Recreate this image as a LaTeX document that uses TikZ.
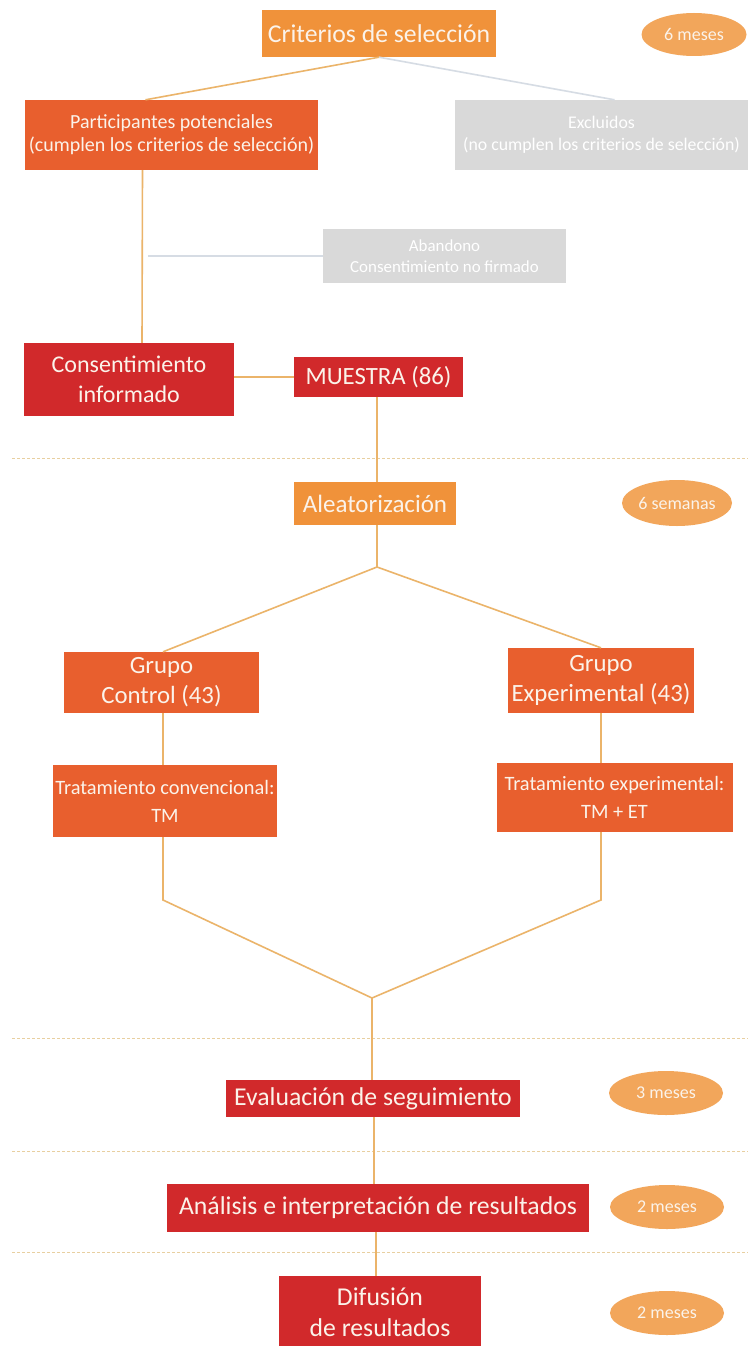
\documentclass[tikz,border=0pt]{standalone}
\usepackage{fontspec}
\setmainfont{Carlito}
\usetikzlibrary{shapes.geometric,calc}
\definecolor{corange}{HTML}{F0923A}
\definecolor{cored}{HTML}{E85F2E}
\definecolor{cred}{HTML}{D1292B}
\definecolor{cgrey}{HTML}{D9D9D9}
\definecolor{cell}{HTML}{F2A65B}
\definecolor{cline}{HTML}{EBB46A}
\definecolor{cgline}{HTML}{D6DCE4}
\definecolor{cdash}{HTML}{E8CFA0}
\definecolor{ctext}{HTML}{FBF3EA}
\tikzset{
  box/.style={rectangle, inner sep=0pt, align=center, text=ctext},
  topbox/.style={box, fill=corange, font=\fontsize{25.7}{30}\selectfont},
  midbox/.style={box, fill=cored},
  redbox/.style={box, fill=cred, font=\fontsize{25.7}{31}\selectfont},
  greybox/.style={box, fill=cgrey, text=white, font=\fontsize{17.8}{22}\selectfont},
  dur/.style={ellipse, fill=cell, text=ctext, inner sep=0pt, font=\fontsize{18}{20}\selectfont},
  link/.style={draw=cline, line width=1.6pt},
  glink/.style={draw=cgline, line width=1.6pt},
  sep/.style={draw=cdash, line width=0.8pt, dash pattern=on 3pt off 2pt}
}
\begin{document}
\begin{tikzpicture}[x=1pt,y=-1pt]
\useasboundingbox (0,0) rectangle (748,1346);
\fill[white] (0,0) rectangle (748,1346);

% dashed separators
\coordinate (s1a) at (12,458); \coordinate (s1b) at (748,458);
\coordinate (s2a) at (12,1038); \coordinate (s2b) at (748,1038);
\coordinate (s3a) at (12,1151); \coordinate (s3b) at (748,1151);
\coordinate (s4a) at (12,1252); \coordinate (s4b) at (748,1252);
\draw[sep] (s1a) -- (s1b);
\draw[sep] (s2a) -- (s2b);
\draw[sep] (s3a) -- (s3b);
\draw[sep] (s4a) -- (s4b);

% nodes
\node[topbox, minimum width=234pt, minimum height=47pt] (crit) at (379,33.5) {Criterios de selección};
\node[dur, minimum width=105pt, minimum height=43pt] (d1) at (694,34.5) {6 meses};
\node[midbox, minimum width=293pt, minimum height=70pt, font=\fontsize{20}{23}\selectfont] (part) at (171.5,135) {Participantes potenciales\\(cumplen los criterios de selección)};
\node[greybox, minimum width=293pt, minimum height=70pt] (excl) at (601.5,135) {Excluidos\\(no cumplen los criterios de selección)};
\node[greybox, minimum width=243pt, minimum height=54pt, font=\fontsize{16.9}{21}\selectfont] (aban) at (444.5,256) {Abandono\\Consentimiento no firmado};
\node[redbox, minimum width=210pt, minimum height=73pt, font=\fontsize{24}{30}\selectfont] (cons) at (129,379.5) {Consentimiento\\informado};
\node[redbox, minimum width=169pt, minimum height=40pt, font=\fontsize{24.8}{30}\selectfont] (mues) at (378.5,377) {MUESTRA (86)};
\node[topbox, minimum width=162pt, minimum height=43pt, font=\fontsize{25}{30}\selectfont] (alea) at (375,503.5) {Aleatorización};
\node[dur, minimum width=110pt, minimum height=46pt] (d2) at (677,503) {6 semanas};
\node[midbox, minimum width=195pt, minimum height=61pt, font=\fontsize{24.8}{30}\selectfont] (gc) at (161.5,682.5) {Grupo\\Control (43)};
\node[midbox, minimum width=186pt, minimum height=65pt, font=\fontsize{24.8}{30}\selectfont] (ge) at (601,680.5) {Grupo\\Experimental (43)};
\node[midbox, minimum width=224pt, minimum height=72pt, font=\fontsize{20.4}{28}\selectfont] (tc) at (165,801) {Tratamiento convencional:\\TM};
\node[midbox, minimum width=236pt, minimum height=69pt, font=\fontsize{20.4}{28}\selectfont] (te) at (614.5,797.5) {Tratamiento experimental:\\TM + ET};
\node[redbox, minimum width=294pt, minimum height=37pt] (eval) at (373,1098.5) {Evaluación de seguimiento};
\node[dur, minimum width=114pt, minimum height=44pt] (d3) at (666,1093) {3 meses};
\node[redbox, minimum width=422pt, minimum height=48pt] (anal) at (378,1208) {Análisis e interpretación de resultados};
\node[dur, minimum width=114pt, minimum height=44pt] (d4) at (667,1207) {2 meses};
\node[redbox, minimum width=202pt, minimum height=72pt] (difu) at (380,1312) {Difusión\\de resultados};
\node[dur, minimum width=114pt, minimum height=44pt] (d5) at (667,1313) {2 meses};

% connectors
\draw[link] (crit.south) -- ([xshift=-26pt]part.north);
\draw[glink] (crit.south) -- ([xshift=13pt]excl.north);
\draw[link] ([xshift=-29pt]part.south) -- ([xshift=13pt]cons.north);
\coordinate (abl) at (148,256);
\draw[glink] (abl) -- (aban.west);
\draw[link] (cons.east |- mues.west) -- (mues.west);
\draw[link] ([xshift=-1.5pt]mues.south) -- ([xshift=2pt]alea.north);
\coordinate (split) at (377,567);
\draw[link] ([xshift=2pt]alea.south) -- (split);
\draw[link] (split) -- ([xshift=1.5pt]gc.north);
\draw[link] (split) -- (ge.north);
\draw[link] ([xshift=1.5pt]gc.south) -- ([xshift=-2pt]tc.north);
\draw[link] (ge.south) -- ([xshift=-13.5pt]te.north);
\coordinate (lc) at (163,900);
\coordinate (rc) at (601,900);
\coordinate (merge) at (372,998);
\draw[link] ([xshift=-2pt]tc.south) -- (lc) -- (merge);
\draw[link] ([xshift=-13.5pt]te.south) -- (rc) -- (merge);
\draw[link] (merge) -- ([xshift=-1pt]eval.north);
\draw[link] ([xshift=1pt]eval.south) -- ([xshift=-4pt]anal.north);
\draw[link] ([xshift=-2pt]anal.south) -- ([xshift=-4pt]difu.north);
\end{tikzpicture}
\end{document}
